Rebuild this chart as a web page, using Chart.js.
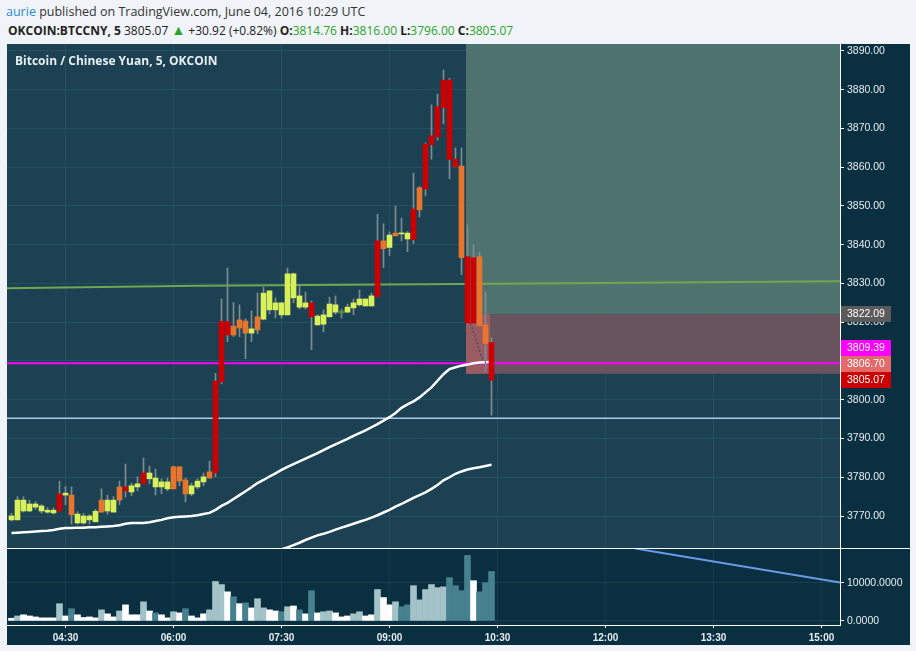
<!DOCTYPE html>
<html>
<head>
<meta charset="utf-8">
<script src="https://cdn.jsdelivr.net/npm/chart.js@4.4.0/dist/chart.umd.min.js"></script>
<style>
html, body { margin: 0; padding: 0; width: 916px; height: 651px; overflow: hidden; background: #f0f3f7; font-family: 'Open Sans', sans-serif; }
#head1 { position: absolute; left: 6px; top: 4px; font-size: 12.5px; line-height: 16px; color: #333; white-space: nowrap; }
#head1 .user { color: #2a8bd0; }
#head2 { position: absolute; left: 8px; top: 22px; font-size: 12px; line-height: 16px; color: #222; white-space: nowrap; }
#head2 b { font-weight: 700; }
#head2 .g { color: #2aa32a; }
#head2 .tri { font-size: 14px; line-height: 16px; }
#frame { position: absolute; left: 7px; top: 44px; width: 903px; height: 601px; background: #0a2f40; }
#priceChart { position: absolute; left: 0; top: 0; }
#volumeChart { position: absolute; left: 0; top: 504px; }
#title { position: absolute; left: 8px; top: 9px; font-size: 12px; line-height: 16px; font-weight: 700; color: #e8eef1; white-space: nowrap; }
</style>
</head>
<body>
<div id="head1"><span class="user">aurie</span> published on TradingView.com, June 04, 2016 10:29 UTC</div>
<div id="head2"><b>OKCOIN:BTCCNY, 5</b> 3805.07 <span class="g tri">▲</span> +30.92 (+0.82%) <b>O:</b><span class="g">3814.76</span> <b>H:</b><span class="g">3816.00</span> <b>L:</b><span class="g">3796.00</span> <b>C:</b><span class="g">3805.07</span></div>
<div id="frame">
  <canvas id="priceChart" width="903" height="504"></canvas>
  <canvas id="volumeChart" width="903" height="97"></canvas>
  <div id="title">Bitcoin / Chinese Yuan, 5, OKCOIN</div>
</div>
<script>
// 5 minute bars, 03:45 .. 10:25 (index 0 .. 80)
const openP = [3769.0,3769.0,3771.3,3771.3,3772.3,3771.3,3771.0,3770.8,3775.7,3775.4,
  3775.4,3768.2,3768.2,3769.0,3768.5,3774.1,3771.3,3771.0,3777.5,3777.5,
  3776.2,3777.5,3781.1,3779.6,3777.5,3777.5,3777.0,3782.7,3782.7,3779.3,
  3775.7,3777.5,3778.8,3781.4,3804.8,3820.2,3820.2,3819.0,3820.6,3820.3,
  3817.2,3821.4,3820.8,3823.2,3823.2,3821.9,3821.9,3826.3,3823.9,3823.9,
  3825.0,3819.3,3819.5,3821.4,3822.6,3822.4,3822.6,3823.7,3824.5,3824.2,
  3824.2,3841.0,3841.0,3839.3,3843.0,3842.8,3841.5,3849.2,3854.7,3866.0,
  3868.1,3875.6,3882.5,3882.5,3862.1,3860.3,3836.9,3836.6,3836.9,3819.3,3814.76];
const highP = [3770.7,3775.0,3775.0,3774.1,3773.7,3772.9,3772.2,3772.1,3779.0,3777.6,
  3777.5,3771.1,3770.7,3770.4,3771.7,3777.0,3775.4,3775.0,3779.0,3783.4,
  3778.5,3780.1,3785.0,3782.9,3782.1,3779.6,3779.8,3782.9,3782.7,3779.8,
  3778.5,3779.6,3781.1,3784.2,3806.8,3826.0,3834.0,3825.1,3824.5,3820.9,
  3822.9,3827.6,3829.1,3828.1,3826.3,3825.0,3834.0,3832.7,3829.4,3827.8,
  3825.5,3821.9,3823.2,3826.5,3826.8,3823.4,3824.7,3826.0,3828.3,3826.0,
  3827.5,3847.9,3845.4,3843.3,3850.0,3846.9,3843.4,3858.5,3855.0,3866.3,
  3876.1,3878.9,3885.1,3883.0,3865.0,3865.0,3845.1,3839.9,3838.2,3827.9,3816.00];
const lowP = [3768.7,3769.0,3771.0,3771.1,3771.7,3770.7,3770.7,3770.5,3771.3,3772.9,
  3767.9,3767.9,3767.9,3767.9,3768.5,3771.0,3770.5,3771.0,3772.9,3774.9,
  3775.2,3776.5,3778.3,3778.3,3775.4,3775.7,3776.5,3777.0,3777.8,3773.6,
  3775.2,3777.0,3777.8,3779.8,3780.1,3804.1,3815.0,3816.3,3816.3,3810.6,
  3815.0,3817.0,3820.6,3822.1,3821.1,3821.1,3821.9,3825.0,3823.4,3823.4,
  3812.9,3819.3,3817.5,3821.4,3822.1,3821.1,3822.6,3821.9,3824.2,3824.2,
  3824.2,3826.6,3834.1,3837.2,3842.3,3841.0,3838.2,3840.3,3847.2,3852.6,
  3862.1,3867.0,3871.2,3857.0,3860.1,3832.3,3819.8,3819.8,3819.1,3807.3,3796.00];
const closeP = [3770.0,3774.1,3774.1,3773.1,3773.1,3772.6,3771.5,3771.5,3771.3,3775.9,
  3770.3,3770.5,3770.0,3770.0,3771.2,3771.0,3774.1,3774.1,3774.1,3776.5,
  3777.8,3778.3,3778.3,3781.1,3779.8,3778.8,3778.8,3777.0,3779.0,3775.7,
  3777.8,3779.0,3780.1,3779.8,3781.1,3804.6,3816.7,3816.7,3818.5,3817.2,
  3818.3,3818.0,3827.5,3828.1,3825.0,3825.0,3832.5,3832.5,3826.8,3825.0,
  3821.4,3821.6,3821.9,3824.7,3824.5,3822.9,3823.9,3825.0,3826.0,3826.0,
  3826.8,3826.6,3839.0,3842.5,3842.3,3843.0,3843.0,3841.3,3849.0,3854.4,
  3865.8,3867.8,3875.4,3862.0,3860.1,3836.7,3819.8,3819.8,3819.1,3814.5,3805.07];
// bar colouring from the chart: Y lime, R red, O orange, G dark green
const candleTone = ['Y','Y','Y','Y','Y','Y','Y','Y','R','Y',
  'O','Y','Y','Y','Y','O','Y','Y','O','R',
  'Y','Y','R','Y','Y','Y','Y','O','O','O',
  'Y','Y','Y','O','R','R','R','O','O','O',
  'Y','O','Y','Y','Y','Y','Y','Y','Y','Y',
  'R','Y','Y','Y','Y','G','Y','Y','Y','Y',
  'Y','R','O','Y','O','Y','Y','R','O','R',
  'R','R','R','R','R','O','R','R','O','O','R'];
const maFast = [3765.6,3765.7,3765.8,3765.9,3766.0,3766.1,3766.2,3766.4,3766.7,3766.9,
  3766.9,3767.0,3767.0,3767.1,3767.1,3767.2,3767.3,3767.4,3767.6,3768.0,
  3768.2,3768.2,3768.2,3768.4,3768.7,3769.0,3769.4,3769.7,3769.8,3769.9,
  3770.0,3770.2,3770.5,3770.8,3771.6,3772.6,3773.4,3774.4,3775.4,3776.4,
  3777.4,3778.5,3779.3,3780.2,3781.0,3781.9,3782.7,3783.4,3784.1,3784.8,
  3785.5,3786.2,3787.0,3787.8,3788.5,3789.2,3789.9,3790.7,3791.4,3792.1,
  3792.9,3793.7,3794.6,3795.5,3796.6,3797.9,3798.8,3799.6,3800.6,3801.9,
  3803.2,3804.9,3806.6,3807.9,3808.4,3808.8,3809.1,3809.4,3809.6,3809.7,3809.8];
const maSlow = [null,null,null,null,null,null,null,null,null,null,
  null,null,null,null,null,null,null,null,null,null,
  null,null,null,null,null,null,null,null,null,null,
  null,null,null,null,null,null,null,null,null,null,
  3758.5,3759.1,3759.7,3760.3,3760.9,3761.4,3761.9,3762.5,3763.1,3763.8,
  3764.4,3765.0,3765.4,3765.9,3766.5,3767.0,3767.5,3768.0,3768.5,3769.0,
  3769.6,3770.2,3770.9,3771.6,3772.4,3773.1,3773.9,3774.7,3775.4,3776.1,
  3777.0,3778.0,3779.2,3780.0,3780.9,3781.5,3782.0,3782.3,3782.6,3782.9,3783.2];
const volume = [700,1300,1600,1300,1050,800,800,800,4500,1300,
  3200,1600,900,1050,800,2900,1850,1050,2600,4200,
  1600,1600,5000,2600,2100,1600,800,2400,2100,3200,
  1300,800,1850,2900,10300,9500,7600,6300,4500,4700,
  3400,5800,3400,2900,2600,2400,3700,3900,2900,1850,
  7900,2100,2400,2600,2100,1050,1300,1850,2400,1300,
  1600,8200,6100,4200,5000,3700,4200,9200,5500,8200,
  9500,8700,8900,11300,9200,7900,17100,10500,7600,10000,12900];
// W white, L light, T teal
const volumeTone = ['W','L','W','W','W','W','W','W','L','W',
  'T','W','W','W','W','L','W','W','L','W',
  'W','W','L','W','T','W','W','L','W','T',
  'W','W','W','L','L','L','W','T','W','T',
  'W','L','L','W','W','T','L','W','T','W',
  'T','W','L','L','W','W','W','L','L','W',
  'W','L','W','W','L','T','T','L','L','L',
  'L','L','L','T','T','T','T','W','T','T','T'];
// drawings
const trendLine = [{x: -1, y: 3828.8}, {x: 31, y: 3829.4}, {x: 75, y: 3829.9}, {x: 139, y: 3830.6}];
const magentaLevel = 3809.39;
const blueLevel = 3795.2;
const volumeTrend = [{x: 104, y: 18900}, {x: 138.1, y: 10050}];
const entryPrice = 3822.09;
const stopPrice = 3806.70;
const targetPrice = 3900;
const tradeStartIdx = 75.75;
const tradeNowIdx = 79.75;
const tradePath = [{x: 76.5, y: 3819.7}, {x: 79.2, y: 3807.2}];
const tagPrices = [3822.09, 3809.39, 3806.70, 3805.07];
// axes
const priceTicks = [3770, 3780, 3790, 3800, 3810, 3820, 3830, 3840, 3850, 3860, 3870, 3880, 3890];
const volumeTicks = [0, 10000];
const timeTickIdx = [9, 27, 45, 63, 81, 99, 117, 135];
const timeTickLabels = ['04:30', '06:00', '07:30', '09:00', '10:30', '12:00', '13:30', '15:00'];

const toneColor = {Y: '#d8f05a', R: '#cc0000', O: '#e8752d', G: '#4f8a3c'};
const volColor = {W: '#ffffff', L: '#a3c3c8', T: '#478190'};
const tagColor = ['#5b5b5b', '#ff00ff', '#e26a6a', '#cc0000'];
const axisFont = {family: "'Liberation Sans', Arial, sans-serif", size: 10.5};
const xMin = -0.75, xMax = 138.0833;

const idx = openP.map((_, i) => i);

function fixY(s) { s.width = 70; s.paddingTop = 0; s.paddingBottom = 0; }

// pane background
const paneBg = {
  id: 'paneBg',
  beforeDraw(chart, args, opts) {
    const {ctx, chartArea: a} = chart;
    ctx.save();
    ctx.fillStyle = opts.color;
    ctx.fillRect(a.left, a.top, a.right - a.left, a.bottom - a.top);
    ctx.restore();
  }
};

// long position tool, drawn over the grid but under the series
const tradeZones = {
  id: 'tradeZones',
  beforeDatasetsDraw(chart) {
    const {ctx, chartArea: a, scales: {x, y}} = chart;
    const x0 = x.getPixelForValue(tradeStartIdx);
    const xn = x.getPixelForValue(tradeNowIdx);
    const yT = Math.max(a.top, y.getPixelForValue(targetPrice));
    const yE = y.getPixelForValue(entryPrice);
    const yS = y.getPixelForValue(stopPrice);
    ctx.save();
    ctx.fillStyle = 'rgba(82,118,112,0.94)';
    ctx.fillRect(x0, yT, a.right - x0, yE - yT);
    ctx.fillStyle = 'rgba(109,85,96,0.94)';
    ctx.fillRect(x0, yE, a.right - x0, yS - yE);
    ctx.fillStyle = '#9a5b63';
    ctx.fillRect(x0, yE, xn - x0, yS - yE);
    ctx.strokeStyle = '#4a5058';
    ctx.lineWidth = 1.5;
    ctx.setLineDash([2, 2]);
    ctx.beginPath();
    ctx.moveTo(x.getPixelForValue(tradePath[0].x), y.getPixelForValue(tradePath[0].y));
    ctx.lineTo(x.getPixelForValue(tradePath[1].x), y.getPixelForValue(tradePath[1].y));
    ctx.stroke();
    ctx.restore();
  }
};

const priceTags = {
  id: 'priceTags',
  afterDraw(chart) {
    const {ctx, chartArea: a, scales: {y}} = chart;
    const tags = tagPrices.map((p, k) => ({p, y: y.getPixelForValue(p), c: tagColor[k]}));
    tags.sort((m, n) => n.y - m.y);
    let limit = Infinity;
    for (const t of tags) { t.y = Math.min(t.y, limit); limit = t.y - 16; }
    ctx.save();
    ctx.font = "10.5px 'Liberation Sans', Arial, sans-serif";
    ctx.textBaseline = 'middle';
    for (const t of tags) {
      ctx.fillStyle = t.c;
      ctx.fillRect(a.right + 1, Math.round(t.y - 8), 50, 16);
      ctx.fillStyle = '#ffffff';
      ctx.fillText(t.p.toFixed(2), a.right + 7, Math.round(t.y) + 0.5);
    }
    ctx.restore();
  }
};

const separator = {
  id: 'separator',
  afterDraw(chart) {
    const {ctx} = chart;
    ctx.save();
    ctx.fillStyle = '#ffffff';
    ctx.fillRect(0, 0, chart.width, 1);
    ctx.restore();
  }
};

const priceChart = new Chart(document.getElementById('priceChart'), {
  type: 'bar',
  data: {
    datasets: [
      {type: 'line', data: trendLine, borderColor: '#6fa64f', borderWidth: 2, pointRadius: 0, order: 6},
      {type: 'line', data: [{x: -1, y: blueLevel}, {x: 139, y: blueLevel}], borderColor: '#a9cce8', borderWidth: 1.5, pointRadius: 0, order: 6},
      {type: 'line', data: [{x: -1, y: magentaLevel}, {x: 139, y: magentaLevel}], borderColor: '#ff00ff', borderWidth: 2, pointRadius: 0, order: 5},
      {type: 'line', data: idx.map(i => ({x: i, y: maFast[i]})), borderColor: '#ffffff', borderWidth: 2.5, pointRadius: 0, order: 4},
      {type: 'line', data: idx.filter(i => maSlow[i] !== null).map(i => ({x: i, y: maSlow[i]})), borderColor: '#ffffff', borderWidth: 2.5, pointRadius: 0, order: 4},
      {data: idx.map(i => ({x: i, y: [lowP[i], highP[i]]})), backgroundColor: '#7f8b90', barThickness: 1, grouped: false, order: 2},
      {data: idx.map(i => ({x: i, y: [openP[i], closeP[i]]})), backgroundColor: idx.map(i => toneColor[candleTone[i]]), barThickness: 5, minBarLength: 1, grouped: false, order: 1}
    ]
  },
  options: {
    responsive: false,
    animation: false,
    events: [],
    layout: {padding: 0},
    plugins: {legend: {display: false}, tooltip: {enabled: false}, paneBg: {color: '#1b4152'}},
    scales: {
      x: {
        type: 'linear', min: xMin, max: xMax, offset: false,
        afterBuildTicks: s => { s.ticks = timeTickIdx.map(v => ({value: v})); },
        afterFit: s => { s.height = 0; s.paddingLeft = 0; s.paddingRight = 0; },
        ticks: {display: false},
        grid: {color: '#22505d', drawTicks: false, offset: false},
        border: {display: false}
      },
      y: {
        position: 'right', min: 3761.742, max: 3891.806, beginAtZero: false,
        afterBuildTicks: s => { s.ticks = priceTicks.map(v => ({value: v})); },
        afterFit: fixY,
        ticks: {callback: v => v.toFixed(2), color: '#e6ecef', font: axisFont, padding: 3},
        grid: {color: '#22505d', tickColor: '#ffffff', tickLength: 4},
        border: {display: true, color: '#ffffff', width: 1}
      }
    }
  },
  plugins: [paneBg, tradeZones, priceTags]
});

const volumeChart = new Chart(document.getElementById('volumeChart'), {
  type: 'bar',
  data: {
    datasets: [
      {type: 'line', data: volumeTrend, borderColor: '#6b9be8', borderWidth: 2, pointRadius: 0, order: 0},
      {data: idx.map(i => ({x: i, y: volume[i]})), backgroundColor: idx.map(i => volColor[volumeTone[i]]), barThickness: 6, grouped: false, order: 1}
    ]
  },
  options: {
    responsive: false,
    animation: false,
    events: [],
    layout: {padding: {top: 1}},
    plugins: {legend: {display: false}, tooltip: {enabled: false}, paneBg: {color: '#0a2f40'}},
    scales: {
      x: {
        type: 'linear', min: xMin, max: xMax, offset: false,
        afterBuildTicks: s => { s.ticks = timeTickIdx.map(v => ({value: v})); },
        afterFit: s => { s.height = 20; s.paddingLeft = 0; s.paddingRight = 0; },
        ticks: {callback: (v, k) => timeTickLabels[k], color: '#e6ecef', font: {family: axisFont.family, size: 10, weight: 'bold'}, padding: 4, autoSkip: false, maxRotation: 0},
        grid: {color: '#123c48', tickColor: '#ffffff', tickLength: 3, offset: false},
        border: {display: true, color: '#ffffff', width: 1}
      },
      y: {
        position: 'right', min: -1060, max: 18780, beginAtZero: false,
        afterBuildTicks: s => { s.ticks = volumeTicks.map(v => ({value: v})); },
        afterFit: fixY,
        ticks: {callback: v => v.toFixed(4), color: '#e6ecef', font: axisFont, padding: 3},
        grid: {color: '#16434c', tickColor: '#ffffff', tickLength: 4},
        border: {display: true, color: '#ffffff', width: 1}
      }
    }
  },
  plugins: [paneBg, separator]
});
</script>
</body>
</html>
